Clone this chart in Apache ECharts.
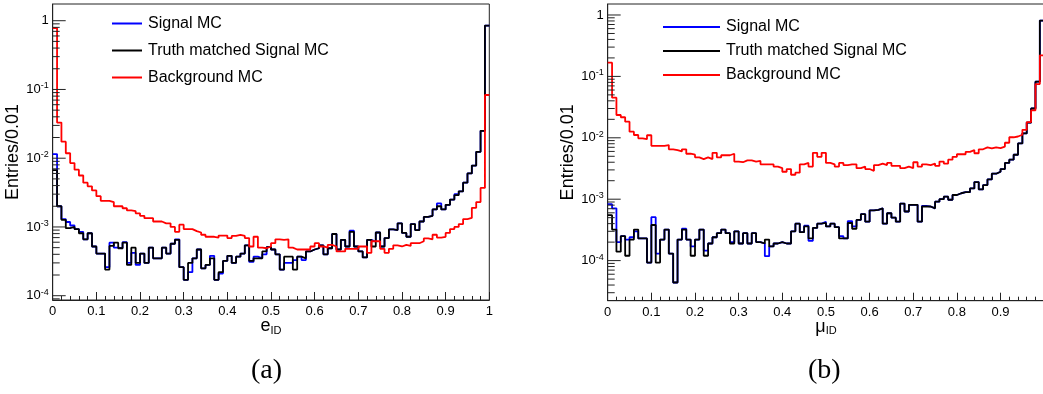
<!DOCTYPE html>
<html><head><meta charset="utf-8">
<script src="https://cdn.jsdelivr.net/npm/echarts@6/dist/echarts.min.js"></script>
<style>html,body{margin:0;padding:0;background:#fff}#c{width:1043px;height:394px}</style>
</head><body><div id="c"></div>
<script>
// ---------------- data ----------------
const seriesNames = ['Signal MC', 'Truth matched Signal MC', 'Background MC'];
const panelCaptions = ['(a)', '(b)'];
const yAxisTitle = 'Entries/0.01';
const xTickLabels = ['0', '0.1', '0.2', '0.3', '0.4', '0.5', '0.6', '0.7', '0.8', '0.9', '1'];
const binWidth = 0.01;

// panel (a): e_ID
const eSignal = [
 0.0115,0.002,0.0013,0.00118,0.00105,0.00093,0.00085,0.00066,0.00081,0.00052,
 0.00041,0.00041,0.00026,0.00059,0.0005,0.00049,0.0006,0.0003,0.00042,0.00028,
 0.00041,0.0003,0.0005,0.00035,0.00035,0.0005,0.00041,0.00057,0.00066,0.00026,
 0.00017,0.00022,0.00035,0.00047,0.00025,0.00028,0.00038,0.00017,0.00021,0.00032,
 0.00038,0.0003,0.00037,0.00041,0.00054,0.00031,0.00037,0.00035,0.0004,0.00051,
 0.00047,0.0004,0.00024,0.0003,0.0003,0.00033,0.00037,0.00033,0.00044,0.00047,
 0.00049,0.00054,0.0004,0.00049,0.00079,0.00047,0.00065,0.00052,0.00088,0.00052,
 0.00044,0.00036,0.00065,0.00061,0.00083,0.00052,0.00069,0.00092,0.0009,0.00113,
 0.00082,0.00072,0.0011,0.0009,0.0012,0.0014,0.00145,0.0018,0.0022,0.0018,
 0.0021,0.0025,0.003,0.0033,0.0044,0.006,0.0078,0.0124,0.025,0.85];
const eTruth = [
 0.0067,0.002,0.00127,0.00096,0.001,0.00093,0.00081,0.00066,0.00081,0.00052,
 0.00041,0.00041,0.00024,0.00053,0.00059,0.00049,0.00059,0.00028,0.0005,0.0003,
 0.00041,0.0003,0.0005,0.00035,0.00035,0.0005,0.00041,0.00057,0.00065,0.00026,
 0.00017,0.0003,0.00035,0.00047,0.00025,0.00028,0.00035,0.00017,0.00022,0.00032,
 0.00038,0.0003,0.00037,0.00041,0.00054,0.00032,0.00035,0.00035,0.00044,0.00051,
 0.00047,0.0004,0.00024,0.00037,0.00037,0.00024,0.00037,0.00035,0.00044,0.00047,
 0.00049,0.00054,0.0004,0.00049,0.00079,0.00047,0.00065,0.00052,0.00085,0.00052,
 0.00044,0.00036,0.00065,0.00052,0.00083,0.00052,0.00069,0.00092,0.0009,0.00113,
 0.00082,0.00072,0.0011,0.0009,0.0012,0.0014,0.00145,0.0018,0.002,0.0018,
 0.0021,0.0025,0.0029,0.0033,0.0044,0.006,0.0078,0.0124,0.025,0.85];
const eBkg = [
 0.78,0.033,0.0174,0.0118,0.0085,0.0068,0.0056,0.0044,0.0039,0.0034,
 0.0028,0.0024,0.0024,0.0023,0.002,0.002,0.00187,0.00174,0.0017,0.00158,
 0.00145,0.00134,0.00134,0.0012,0.0012,0.00113,0.00113,0.001,0.00085,0.00108,
 0.00093,0.00093,0.00087,0.00083,0.00077,0.00072,0.00072,0.0007,0.00075,0.00075,
 0.00069,0.00074,0.00077,0.00074,0.00069,0.00052,0.00072,0.0005,0.00049,0.00052,
 0.00058,0.00066,0.00065,0.00066,0.0005,0.00047,0.00047,0.00047,0.00047,0.00052,
 0.00058,0.00052,0.0005,0.00055,0.00052,0.00044,0.00044,0.00048,0.00048,0.00048,
 0.00052,0.00052,0.00042,0.00062,0.00062,0.00048,0.00042,0.00048,0.00054,0.00052,
 0.00055,0.00053,0.00058,0.00058,0.00062,0.00068,0.00066,0.00077,0.0007,0.00072,
 0.00082,0.00093,0.001,0.0011,0.0013,0.00135,0.0019,0.0023,0.0037,0.083];

// panel (b): mu_ID
const muSignal = [
 0.00083,0.00071,0.0002,0.00025,0.00022,0.00024,0.0003,0.00023,0.00023,0.000093,
 0.00051,0.00013,0.00022,0.00032,0.00013,0.000044,0.00022,0.00033,0.00022,0.00017,
 0.00022,0.00032,0.000145,0.00019,0.00024,0.00028,0.00032,0.00028,0.0002,0.0003,
 0.00019,0.00028,0.00019,0.00028,0.0002,0.00019,0.000118,0.00017,0.00019,0.0002,
 0.00019,0.00019,0.0003,0.0004,0.00029,0.00037,0.00021,0.00034,0.0004,0.00043,
 0.00036,0.0004,0.00035,0.00025,0.00023,0.00044,0.00036,0.00046,0.00057,0.00043,
 0.00066,0.00067,0.00071,0.0004,0.00059,0.0005,0.00043,0.00085,0.00063,0.00081,
 0.00081,0.00043,0.00078,0.00076,0.00071,0.00091,0.001,0.0011,0.00098,0.00117,
 0.00125,0.0013,0.0013,0.0015,0.0019,0.00145,0.0017,0.0021,0.0026,0.0028,
 0.0031,0.0039,0.0044,0.0053,0.0081,0.0118,0.0177,0.03,0.082,0.81];
const muTruth = [
 0.00055,0.00032,0.00014,0.00025,0.00012,0.00022,0.00032,0.00023,0.00023,0.000093,
 0.00038,0.000093,0.00022,0.00032,0.00013,0.000044,0.00022,0.00032,0.00022,0.00012,
 0.00022,0.00032,0.00012,0.00019,0.00024,0.00028,0.00032,0.00028,0.00019,0.0003,
 0.00019,0.00028,0.00019,0.00028,0.0002,0.00019,0.00022,0.00017,0.00019,0.0002,
 0.00019,0.00019,0.0003,0.0004,0.00029,0.00036,0.00023,0.00034,0.0004,0.00041,
 0.00036,0.0004,0.00035,0.00023,0.00023,0.00041,0.00033,0.00046,0.00057,0.00043,
 0.00066,0.00067,0.00071,0.0004,0.00059,0.0005,0.00043,0.00085,0.00063,0.00081,
 0.00081,0.00043,0.00076,0.00076,0.00071,0.00091,0.001,0.0011,0.00098,0.00117,
 0.00125,0.0013,0.0013,0.0015,0.0019,0.00145,0.0017,0.0021,0.0026,0.0028,
 0.0031,0.0039,0.0044,0.0053,0.0081,0.0118,0.0177,0.03,0.082,0.81];
const muBkg = [
 0.167,0.045,0.0235,0.0216,0.0183,0.0126,0.0111,0.0098,0.0095,0.011,
 0.0074,0.0074,0.0074,0.0076,0.0065,0.0063,0.006,0.0065,0.0055,0.0053,
 0.0048,0.0045,0.0048,0.0045,0.0057,0.0048,0.0052,0.0052,0.0055,0.0041,
 0.004,0.0043,0.0043,0.0041,0.0042,0.0037,0.0037,0.0037,0.0034,0.0032,
 0.0028,0.0031,0.0025,0.0027,0.0037,0.0039,0.0034,0.0057,0.0049,0.0057,
 0.0039,0.0037,0.0034,0.0039,0.0036,0.0037,0.0037,0.0032,0.0034,0.0031,
 0.0029,0.0036,0.0038,0.0036,0.0039,0.0035,0.0035,0.0032,0.0034,0.0032,
 0.004,0.0034,0.0037,0.0036,0.0038,0.0035,0.0041,0.0038,0.0044,0.0049,
 0.0054,0.0054,0.0059,0.0063,0.0056,0.0065,0.007,0.0067,0.007,0.0068,
 0.0072,0.0083,0.0102,0.0105,0.0112,0.0135,0.018,0.028,0.075,0.22];

// ---------------- chart ----------------
const colors = ['#0000ff', '#000000', '#ff0000'];
const FONT = "'Liberation Sans', Arial, Helvetica, sans-serif";
const panels = [
  {left: 52.7, top: 4, width: 436.6, height: 296, yMin: Math.pow(10, -4.0625), yMax: Math.pow(10, 0.243),
   data: [eSignal, eTruth, eBkg], xName: '{m|e}{s|ID}', legendLeft: 107, legendTop: 10.5, legendW: 30, legendGap: 11, capX: 271, showMaxX: true},
  {left: 607.7, top: 4, width: 436.5, height: 296.7, yMin: Math.pow(10, -4.653), yMax: Math.pow(10, 0.179),
   data: [muSignal, muTruth, muBkg], xName: '{m|μ}{s|ID}', legendLeft: 658, legendTop: 14, legendW: 57, legendGap: 8, capX: 828, showMaxX: false}
];

function histPoints(vals) {
  const pts = vals.map((v, i) => [i * binWidth, v]);
  pts.push([vals.length * binWidth, vals[vals.length - 1]]);
  return pts;
}

function yLabel(v) {
  const l = Math.log10(v);
  const n = Math.round(l);
  if (Math.abs(l - n) > 0.01) return '';
  if (n === 0) return '{b|1}';
  return '{b|10}{s|' + n + '}';
}

const grid = [], xAxis = [], yAxis = [], series = [], legend = [], graphic = [];
panels.forEach((p, gi) => {
  grid.push({left: p.left, top: p.top, width: p.width, height: p.height, show: true,
    containLabel: false, outerBoundsMode: 'none',
    borderColor: '#222', borderWidth: 1, backgroundColor: 'transparent'});
  xAxis.push({type: 'value', gridIndex: gi, min: 0, max: 1, interval: 0.1,
    name: p.xName, nameLocation: 'middle', nameGap: 17, nameMoveOverlap: false,
    nameTextStyle: {rich: {m: {fontFamily: FONT, fontSize: 18, color: '#000'},
                           s: {fontFamily: FONT, fontSize: 11, color: '#000', verticalAlign: 'bottom', padding: [8, 0, 0, 0]}}},
    axisLine: {show: true, lineStyle: {color: '#222', width: 1}},
    axisTick: {show: true, inside: true, length: 8, lineStyle: {color: '#222'}},
    minorTick: {show: true, splitNumber: 5, length: 4, lineStyle: {color: '#222'}},
    splitLine: {show: false}, minorSplitLine: {show: false},
    axisLabel: {fontFamily: FONT, fontSize: 13, color: '#000', margin: 5, showMaxLabel: p.showMaxX,
      formatter: v => xTickLabels[Math.round(v * 10)]}});
  yAxis.push({type: 'log', logBase: 10, gridIndex: gi, min: p.yMin, max: p.yMax,
    name: yAxisTitle, nameLocation: 'middle', nameGap: 26,
    nameTextStyle: {fontFamily: FONT, fontSize: 18, color: '#000'},
    axisLine: {show: true, lineStyle: {color: '#222', width: 1}},
    axisTick: {show: false}, splitLine: {show: false},
    axisLabel: {margin: 4, formatter: yLabel, showMinLabel: false, showMaxLabel: false,
      rich: {b: {fontFamily: FONT, fontSize: 13, color: '#000', lineHeight: 16},
             s: {fontFamily: FONT, fontSize: 9, color: '#000', lineHeight: 16, verticalAlign: 'top', padding: [0, 0, 6, 0]}}}});

  // log-style ticks on the y axis (major 1eN, minor k*1eN)
  const lo = Math.floor(Math.log10(p.yMin)), hi = Math.ceil(Math.log10(p.yMax));
  const ticks = [];
  for (let n = lo; n <= hi; n++) for (let k = 1; k <= 9; k++) {
    const v = k * Math.pow(10, n);
    if (v >= p.yMin && v <= p.yMax) ticks.push([0, v, k === 1 ? 13 : 7]);
  }
  series.push({type: 'custom', xAxisIndex: gi, yAxisIndex: gi, silent: true, clip: false, z: 5,
    data: ticks, renderItem: (params, api) => {
      const c = api.coord([0, api.value(1)]);
      const len = api.value(2);
      return {type: 'line', shape: {x1: c[0], y1: c[1], x2: c[0] + len, y2: c[1]},
        style: {stroke: '#222', lineWidth: 1}};
    }});

  p.data.forEach((vals, si) => {
    series.push({name: seriesNames[si], type: 'line', xAxisIndex: gi, yAxisIndex: gi,
      step: 'end', symbol: 'none', color: colors[si], data: histPoints(vals),
      lineStyle: {color: colors[si], width: 1.8}, z: si === 0 ? 2 : (si === 1 ? 3 : 4), animation: false});
  });

  legend.push({orient: 'vertical', left: p.legendLeft, top: p.legendTop, data: seriesNames,
    icon: 'rect', itemWidth: p.legendW, itemHeight: 2, itemGap: p.legendGap, selectedMode: false,
    textStyle: {fontFamily: FONT, fontSize: 16, color: '#000', lineHeight: 16, padding: [0, 0, 0, 1]}});

  graphic.push({type: 'text', left: p.capX - 20, top: 357, style: {text: panelCaptions[gi],
    font: "28px 'Liberation Serif', 'DejaVu Serif', serif", fill: '#000'}});
});

const chart = echarts.init(document.getElementById('c'), null, {renderer: 'canvas'});
chart.setOption({animation: false, backgroundColor: '#fff', grid, xAxis, yAxis, series, legend, graphic});
</script></body></html>
